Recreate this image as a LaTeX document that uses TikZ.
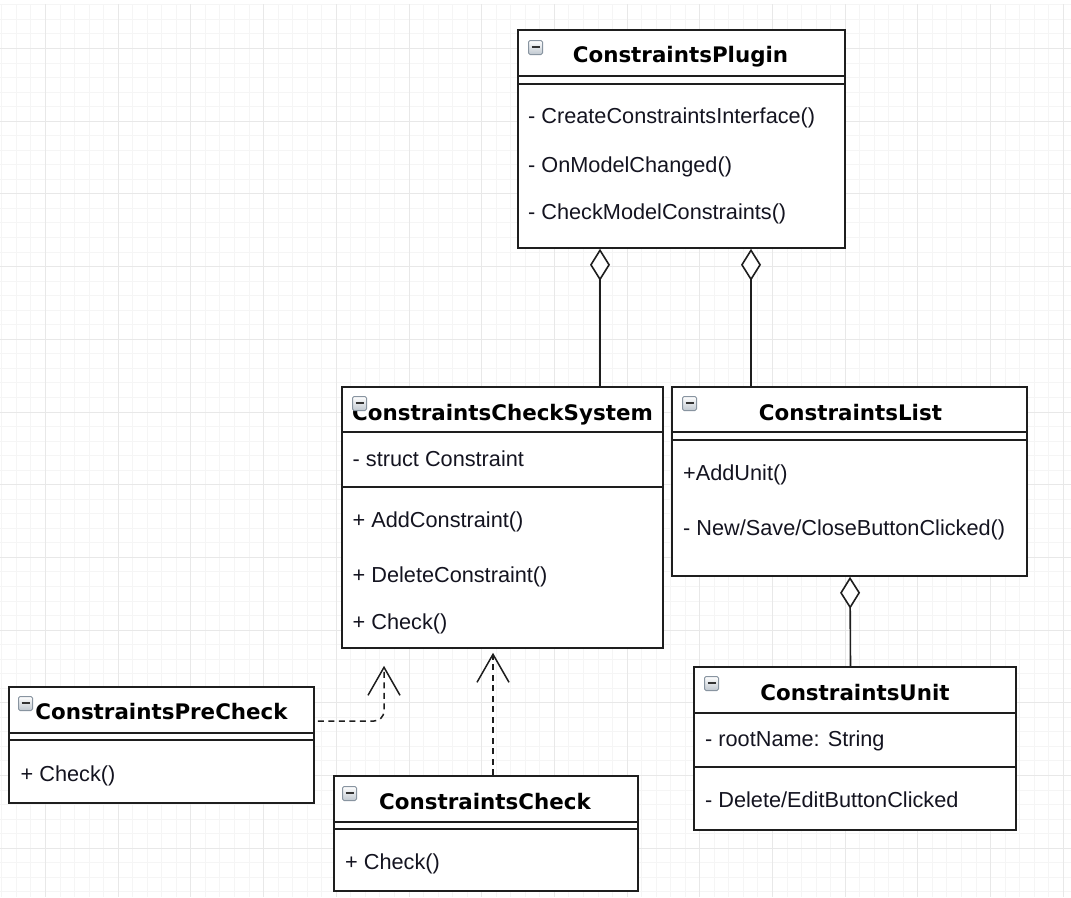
\documentclass[tikz,border=0pt]{standalone}
\usepackage{fontspec}
\setmainfont{Liberation Sans}
\newfontfamily\headfont{DejaVu Sans}
\usetikzlibrary{arrows.meta}
\definecolor{linecol}{HTML}{1E1E1E}
\definecolor{textcol}{HTML}{141420}
\definecolor{gridmajor}{HTML}{E8E8E8}
\definecolor{gridminor}{HTML}{F5F5F5}
\definecolor{iconedge}{HTML}{8894A0}
\definecolor{iconfill}{HTML}{BFC7CF}
\begin{document}
\begin{tikzpicture}[x=1pt,y=-1pt,
  classbox/.style={draw=linecol, line width=1.6pt, fill=white, inner sep=0pt},
  sepline/.style={draw=linecol, line width=1.6pt},
  member/.style={anchor=west, inner sep=0pt, text=textcol,
    font=\fontsize{21.7}{26}\selectfont, text height=15.5pt, text depth=0pt},
  classname/.style={inner sep=0pt, text=black,
    font=\headfont\bfseries\fontsize{21.4}{26}\selectfont, text height=15.6pt, text depth=0pt},
  collapse/.style={anchor=north west, minimum size=14pt, inner sep=0pt,
    rounded corners=1.5pt, draw=iconedge, line width=1pt, top color=white, bottom color=iconfill,
    path picture={\draw[line width=2pt, draw=black!80]
      ([xshift=-4pt,yshift=1pt]path picture bounding box.center) -- ++(8pt,0);}},
  aggr/.style={draw=linecol, line width=1.6pt,
    {Diamond[open, fill=white, length=32pt, width=20pt]}-},
  realize/.style={draw=linecol, line width=1.5pt, dash pattern=on 6pt off 4.5pt,
    -{Straight Barb[length=28pt, width=32pt, line width=1.5pt]}},
]
% canvas and grid
\fill[white] (0,0) rectangle (1071,897);
\useasboundingbox (0,0) rectangle (1071,897);
\foreach \i in {-3,...,70} {
  \pgfmathsetmacro\gx{45.5+14.54*\i}
  \draw[gridminor, line width=1pt] (\gx,4) -- (\gx,897);
}
\foreach \i in {-3,...,61} {
  \pgfmathsetmacro\gy{48.5+14.54*\i}
  \draw[gridminor, line width=1pt] (0,\gy) -- (1071,\gy);
}
\foreach \i in {0,...,14} {
  \pgfmathsetmacro\gx{45.5+72.7*\i}
  \draw[gridmajor, line width=1pt] (\gx,4) -- (\gx,897);
}
\foreach \i in {0,...,11} {
  \pgfmathsetmacro\gy{48.5+72.7*\i}
  \draw[gridmajor, line width=1pt] (0,\gy) -- (1071,\gy);
}

% ---------- ConstraintsPlugin ----------
\node[classbox, minimum width=327pt, minimum height=218pt] (plugin) at (681.5,139) {};
\draw[sepline] ([yshift=-47pt]plugin.north west) -- ([yshift=-47pt]plugin.north east);
\draw[sepline] ([yshift=-55pt]plugin.north west) -- ([yshift=-55pt]plugin.north east);
\node[classname] (t-plugin) at (680.5,55) {ConstraintsPlugin};
\node[collapse] (i-plugin) at (528,40) {};
\node[member] (m-plugin-1) at (528,116) {- CreateConstraintsInterface()};
\node[member] (m-plugin-2) at (528,164.5) {- OnModelChanged()};
\node[member] (m-plugin-3) at (528,211.5) {- CheckModelConstraints()};

% ---------- ConstraintsCheckSystem ----------
\node[classbox, minimum width=321pt, minimum height=261pt] (checksys) at (502.5,517.5) {};
\draw[sepline] ([yshift=-46pt]checksys.north west) -- ([yshift=-46pt]checksys.north east);
\draw[sepline] ([yshift=-101pt]checksys.north west) -- ([yshift=-101pt]checksys.north east);
\node[classname] (t-checksys) at (502.5,412.5) {ConstraintsCheckSystem};
\node[collapse] (i-checksys) at (352,396) {};
\node[member] (m-checksys-1) at (352.5,458.5) {- struct Constraint};
\node[member] (m-checksys-2) at (352.5,520) {+ AddConstraint()};
\node[member] (m-checksys-3) at (352.5,575) {+ DeleteConstraint()};
\node[member] (m-checksys-4) at (352.5,621.5) {+ Check()};

% ---------- ConstraintsList ----------
\node[classbox, minimum width=355pt, minimum height=189pt] (list) at (849.5,481.5) {};
\draw[sepline] ([yshift=-46pt]list.north west) -- ([yshift=-46pt]list.north east);
\draw[sepline] ([yshift=-54pt]list.north west) -- ([yshift=-54pt]list.north east);
\node[classname] (t-list) at (850.5,413) {ConstraintsList};
\node[collapse] (i-list) at (682,396) {};
\node[member] (m-list-1) at (683,473) {+AddUnit()};
\node[member] (m-list-2) at (683,528) {- New/Save/CloseButtonClicked()};

% ---------- ConstraintsUnit ----------
\node[classbox, minimum width=322pt, minimum height=163pt] (unit) at (855,748.5) {};
\draw[sepline] ([yshift=-47pt]unit.north west) -- ([yshift=-47pt]unit.north east);
\draw[sepline] ([yshift=-101pt]unit.north west) -- ([yshift=-101pt]unit.north east);
\node[classname] (t-unit) at (855,692.5) {ConstraintsUnit};
\node[collapse] (i-unit) at (704,676) {};
\node[member] (m-unit-1) at (705,738.5) {- rootName: String};
\node[member] (m-unit-2) at (705,799.5) {- Delete/EditButtonClicked};

% ---------- ConstraintsPreCheck ----------
\node[classbox, minimum width=305pt, minimum height=116pt] (precheck) at (161.5,745) {};
\draw[sepline] ([yshift=-47pt]precheck.north west) -- ([yshift=-47pt]precheck.north east);
\draw[sepline] ([yshift=-54pt]precheck.north west) -- ([yshift=-54pt]precheck.north east);
\node[classname] (t-precheck) at (161.5,712) {ConstraintsPreCheck};
\node[collapse] (i-precheck) at (18,696) {};
\node[member] (m-precheck-1) at (20.5,773.5) {+ Check()};

% ---------- ConstraintsCheck ----------
\node[classbox, minimum width=304pt, minimum height=115pt] (check) at (486,833.5) {};
\draw[sepline] ([yshift=-47pt]check.north west) -- ([yshift=-47pt]check.north east);
\draw[sepline] ([yshift=-54pt]check.north west) -- ([yshift=-54pt]check.north east);
\node[classname] (t-check) at (485,802) {ConstraintsCheck};
\node[collapse] (i-check) at (342,786) {};
\node[member] (m-check-1) at (345,862) {+ Check()};

% ---------- aggregations ----------
\draw[aggr] ([xshift=-81.5pt]plugin.south) -- ([xshift=97.5pt]checksys.north);
\draw[aggr] ([xshift=69.5pt]plugin.south) -- ([xshift=-98.5pt]list.north);
\draw[aggr] ([xshift=0.5pt]list.south) -- ([xshift=-4.5pt]unit.north);

% ---------- realizations ----------
\draw[realize, rounded corners=10pt]
  ([xshift=3pt,yshift=24pt]precheck.east) -| ([xshift=-118.5pt,yshift=-17pt]checksys.south);
\draw[realize] ([xshift=7pt]check.north) -- ([xshift=-9.5pt,yshift=-4pt]checksys.south);
\end{tikzpicture}
\end{document}
